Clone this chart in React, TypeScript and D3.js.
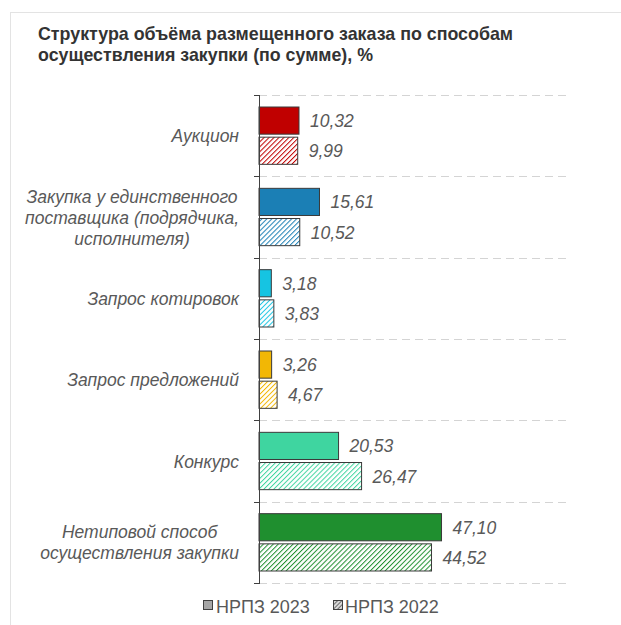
import React, { useMemo } from "react";
import * as d3 from "d3";

const categories = [
  "Аукцион",
  "Закупка у единственного поставщика (подрядчика, исполнителя)",
  "Запрос котировок",
  "Запрос предложений",
  "Конкурс",
  "Нетиповой способ осуществления закупки",
];
// how each category label breaks into lines, as in the picture
const categoryLines = [
  ["Аукцион"],
  ["Закупка у единственного", "поставщика (подрядчика,", "исполнителя)"],
  ["Запрос котировок"],
  ["Запрос предложений"],
  ["Конкурс"],
  ["Нетиповой способ", "осуществления закупки"],
];
const series = ["НРПЗ 2023", "НРПЗ 2022"];
const values2023 = [10.32, 15.61, 3.18, 3.26, 20.53, 47.1];
const values2022 = [9.99, 10.52, 3.83, 4.67, 26.47, 44.52];
const colors = ["#c00000", "#1b7fb5", "#16c4e2", "#f2b705", "#3fd5a0", "#1f8f2f"];
const titleLines = [
  "Структура объёма размещенного заказа по способам",
  "осуществления закупки (по сумме), %",
];

const W = 621;
const H = 625;
const margin = { top: 95, left: 259, right: 52, bottom: 42 };
const labelSize = 17.5;
const labelFont = `italic ${labelSize}px 'Liberation Sans', Arial, sans-serif`;

const fmt = (v: number) => v.toFixed(2).replace(".", ",");

export default function App() {
  const x = d3.scaleLinear().domain([0, 80]).range([margin.left, W - margin.right]);
  const y = d3
    .scaleBand<string>()
    .domain(categories)
    .range([margin.top, H - margin.bottom]);
  const bw = y.bandwidth();
  const inner = d3
    .scaleBand<string>()
    .domain(series)
    .range([12, bw - 12])
    .paddingInner(0.1);

  // measure label lines so multi-line labels are centred as a block
  const widths = useMemo(() => {
    const ctx = document.createElement("canvas").getContext("2d");
    if (!ctx) return categoryLines.map((ls) => ls.map(() => 0));
    ctx.font = labelFont;
    return categoryLines.map((ls) => ls.map((l) => ctx.measureText(l).width));
  }, []);

  const labelRight = 239;
  const lineH = 21;

  return (
    <svg
      width={W}
      height={H}
      style={{ position: "fixed", left: 0, top: 0, background: "#fff" }}
      fontFamily="'Liberation Sans', Arial, sans-serif"
    >
      <defs>
        {colors.map((c, i) => (
          <pattern
            key={i}
            id={`hatch-${i}`}
            width={3.5}
            height={3.5}
            patternUnits="userSpaceOnUse"
            patternTransform="rotate(45)"
          >
            <rect width={3.5} height={3.5} fill="#ffffff" />
            <line x1={0} y1={0} x2={0} y2={3.5} stroke={c} strokeWidth={2} />
          </pattern>
        ))}
        <pattern
          id="hatch-legend"
          width={3}
          height={3}
          patternUnits="userSpaceOnUse"
          patternTransform="rotate(45)"
        >
          <rect width={3} height={3} fill="#d9d9d9" />
          <line x1={0} y1={0} x2={0} y2={3} stroke="#404040" strokeWidth={1.4} />
        </pattern>
      </defs>

      {/* light frame */}
      <line x1={10} y1={12.5} x2={W} y2={12.5} stroke="#e3e3e3" />
      <line x1={10.5} y1={12} x2={10.5} y2={H} stroke="#e3e3e3" />

      {/* title */}
      {titleLines.map((t, i) => (
        <text
          key={i}
          x={38}
          y={40 + i * 21}
          fontSize={19}
          fontWeight="bold"
          fill="#333333"
          textLength={i === 0 ? 475 : 335}
          lengthAdjust="spacingAndGlyphs"
        >
          {t}
        </text>
      ))}

      {/* dashed gridlines at category boundaries */}
      {categories.concat([""]).map((c, i) => {
        const yy = Math.round(margin.top + i * bw) + 0.5;
        return (
          <g key={i}>
            <line
              x1={margin.left}
              x2={W - margin.right}
              y1={yy}
              y2={yy}
              stroke="#d4d4d4"
              strokeDasharray="8,5"
            />
            <line x1={margin.left - 5} x2={margin.left} y1={yy} y2={yy} stroke="#404040" />
          </g>
        );
      })}

      {/* bars */}
      {categories.map((c, i) => {
        const top = y(c)!;
        const vals = [values2023[i], values2022[i]];
        return (
          <g key={c}>
            {series.map((s, j) => {
              const by = top + inner(s)!;
              const h = inner.bandwidth();
              const bx = x(0);
              const wdt = x(vals[j]) - x(0);
              return (
                <g key={s}>
                  <rect
                    x={bx}
                    y={by}
                    width={wdt}
                    height={h}
                    fill={j === 0 ? colors[i] : `url(#hatch-${i})`}
                    stroke="#3a3a3a"
                    strokeWidth={1}
                  />
                  <text
                    x={x(vals[j]) + 11}
                    y={by + h / 2 + 6.5}
                    fontSize={17.5}
                    fontStyle="italic"
                    fill="#595959"
                  >
                    {fmt(vals[j])}
                  </text>
                </g>
              );
            })}
          </g>
        );
      })}

      {/* axis line */}
      <line
        x1={margin.left + 0.5}
        x2={margin.left + 0.5}
        y1={margin.top}
        y2={H - margin.bottom + 1}
        stroke="#404040"
      />

      {/* category labels */}
      {categoryLines.map((ls, i) => {
        const cy = y(categories[i])! + bw / 2;
        const maxW = Math.max(...widths[i]);
        const cx = labelRight - maxW / 2;
        return (
          <text
            key={i}
            fontSize={labelSize}
            fontStyle="italic"
            fill="#595959"
            textAnchor="middle"
          >
            {ls.map((l, k) => (
              <tspan key={k} x={cx} y={cy + (k - (ls.length - 1) / 2) * lineH + 6.5}>
                {l}
              </tspan>
            ))}
          </text>
        );
      })}

      {/* legend */}
      <g fontSize={18} fill="#595959">
        <rect x={203.5} y={600.5} width={9} height={9} fill="#a6a6a6" stroke="#404040" />
        <text x={216} y={613}>
          {series[0]}
        </text>
        <rect x={333.5} y={600.5} width={9} height={9} fill="url(#hatch-legend)" stroke="#404040" />
        <text x={345} y={613}>
          {series[1]}
        </text>
      </g>
    </svg>
  );
}
